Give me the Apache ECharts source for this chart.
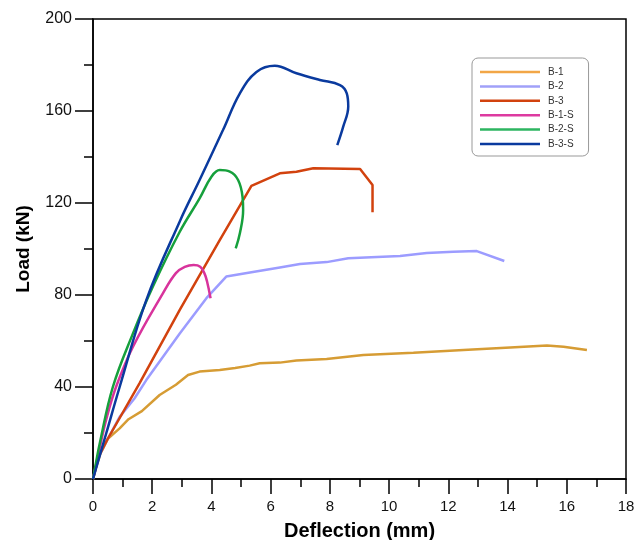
<!DOCTYPE html>
<html>
<head>
<meta charset="utf-8">
<script src="https://cdn.jsdelivr.net/npm/echarts@6/dist/echarts.min.js"></script>
<style>html,body{margin:0;padding:0;background:#fff;}#c{width:641px;height:540px;}</style>
</head>
<body>
<div id="c"></div>
<script>
var seriesNames = ['B-1', 'B-2', 'B-3', 'B-1-S', 'B-2-S', 'B-3-S'];
var seriesColors = ['#D69C34', '#9C9CFF', '#D2420E', '#D8339C', '#16A03C', '#0A3A9E'];
var legendColors = ['#F2A646', '#A0A0F8', '#D2420E', '#DD3AA0', '#2DB560', '#0A3A9E'];
var xTicks = [0, 2, 4, 6, 8, 10, 12, 14, 16, 18];
var yTicks = [0, 40, 80, 120, 160, 200];

var b1X = [0, 0.1, 0.25, 0.5, 0.9, 1.2, 1.65, 2.25, 2.8, 3.21, 3.6, 4.28, 4.8, 5.29, 5.63, 6.31, 6.87, 7.89, 9.13, 10.82, 12.51, 14.09, 15.33, 15.89, 16.68];
var b1Y = [0, 5, 11, 17.5, 22, 26, 29.5, 36.5, 41, 45.2, 46.7, 47.4, 48.3, 49.3, 50.3, 50.6, 51.5, 52.2, 53.9, 54.9, 56.1, 57.2, 58, 57.5, 56.1];

var b2X = [0, 0.1, 0.22, 0.5, 0.9, 1.4, 1.8, 2.93, 3.83, 4.5, 5.4, 6.31, 6.99, 7.89, 8.62, 10.37, 11.27, 12.17, 12.96, 13.89];
var b2Y = [0, 5, 10.5, 17.5, 27, 35, 43, 63.3, 78.6, 88, 90, 92, 93.5, 94.3, 96, 97, 98.3, 98.8, 99.1, 94.8];

var b3X = [0, 0.1, 0.22, 0.5, 1.57, 2.93, 4.28, 5.35, 6.31, 6.87, 7.44, 9.02, 9.44, 9.44];
var b3Y = [0, 5, 10.5, 17.5, 41.6, 73.5, 103.9, 127.4, 132.9, 133.6, 135.1, 134.8, 127.8, 116];

var b1sX = [0, 0.2, 0.45, 0.78, 1.35, 2.36, 2.8, 3.1, 3.4, 3.62, 3.76, 3.85, 3.97];
var b1sY = [0, 12, 26, 40.1, 57.5, 80.7, 89.5, 92.2, 93, 92.3, 89.5, 86, 78.6];

var b2sX = [0, 0.1, 0.22, 0.67, 1.35, 2.02, 2.93, 3.6, 4.0, 4.28, 4.62, 4.9, 5.05, 5.07, 4.96, 4.82];
var b2sY = [0, 7, 15, 40, 63.3, 83.6, 107.5, 122, 131.4, 134.3, 133.6, 130, 122.7, 117, 106.8, 100.3];

var b3sX = [0, 0.45, 0.9, 1.8, 2.93, 3.6, 4.39, 4.96, 5.52, 6.14, 6.87, 7.66, 8.34, 8.57, 8.62, 8.45, 8.25];
var b3sY = [0, 20, 40, 77.8, 112, 130, 151.7, 167.7, 177, 179.7, 176.4, 173.5, 171.3, 167.7, 162, 153.2, 145.2];

var allX = [b1X, b2X, b3X, b1sX, b2sX, b3sX];
var allY = [b1Y, b2Y, b3Y, b1sY, b2sY, b3sY];
var smoothFlags = [false, false, false, true, true, true];

function pairs(xs, ys) {
  var out = [];
  for (var i = 0; i < xs.length; i++) out.push([xs[i], ys[i]]);
  return out;
}

var series = seriesNames.map(function (n, i) {
  return {
    name: n,
    type: 'line',
    data: pairs(allX[i], allY[i]),
    symbol: 'none',
    smooth: smoothFlags[i] ? 0.4 : false,
    lineStyle: { color: seriesColors[i], width: 2.5 },
    itemStyle: { color: seriesColors[i] },
    z: 2 + i
  };
});

var legendData = seriesNames.map(function (n, i) {
  return { name: n, icon: 'rect', itemStyle: { color: legendColors[i] } };
});

var chart = echarts.init(document.getElementById('c'), null, { renderer: 'canvas' });
chart.setOption({
  animation: false,
  backgroundColor: '#fff',
  textStyle: { fontFamily: 'Liberation Sans, Arial, sans-serif' },
  grid: { left: 93, right: 15, top: 19, bottom: 61, outerBoundsMode: 'none', containLabel: false, show: true, borderColor: '#000', borderWidth: 1.5, backgroundColor: 'transparent' },
  legend: {
    orient: 'vertical',
    left: 472, top: 58,
    data: legendData,
    itemWidth: 60, itemHeight: 2.5, itemGap: 2.4,
    padding: [8, 15, 6, 8],
    borderColor: '#999', borderWidth: 1, borderRadius: 6,
    backgroundColor: '#fff',
    textStyle: { fontSize: 10, lineHeight: 12, color: '#333', fontFamily: 'Liberation Sans, Arial, sans-serif', padding: [0, 0, 0, 3] }
  },
  xAxis: {
    type: 'value', min: xTicks[0], max: xTicks[xTicks.length - 1], interval: 2,
    name: 'Deflection (mm)', nameLocation: 'middle', nameGap: 42,
    nameTextStyle: { fontSize: 20, fontWeight: 'bold', color: '#000' },
    axisLine: { show: true, onZero: false, lineStyle: { color: '#000', width: 1.5 } },
    axisTick: { show: true, inside: false, length: 15, lineStyle: { color: '#000', width: 1.5 } },
    minorTick: { show: true, splitNumber: 2, length: 8, lineStyle: { color: '#000', width: 1.5 } },
    axisLabel: { fontSize: 15, color: '#111', margin: 20 },
    splitLine: { show: false }
  },
  yAxis: {
    type: 'value', min: yTicks[0], max: yTicks[yTicks.length - 1], interval: 40,
    name: 'Load (kN)', nameLocation: 'middle', nameGap: 60, nameRotate: 90,
    nameTextStyle: { fontSize: 19, fontWeight: 'bold', color: '#000' },
    axisLine: { show: true, onZero: false, lineStyle: { color: '#000', width: 1.5 } },
    axisTick: { show: true, inside: false, length: 18, lineStyle: { color: '#000', width: 1.5 } },
    minorTick: { show: true, splitNumber: 2, length: 9, lineStyle: { color: '#000', width: 1.5 } },
    axisLabel: { fontSize: 16, color: '#111', margin: 21 },
    splitLine: { show: false }
  },
  series: series
});
</script>
</body>
</html>
